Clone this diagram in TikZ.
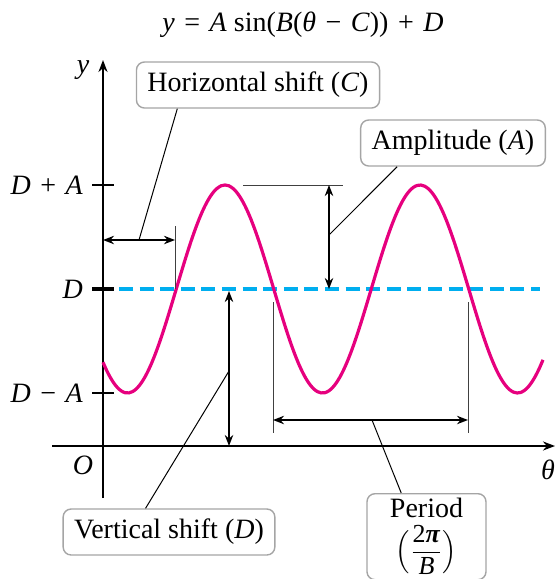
\documentclass[tikz,border=0pt]{standalone}
\usepackage{amsmath}
\usepackage{fontspec}
\setmainfont{Liberation Serif}
\usetikzlibrary{arrows.meta,calc}
\definecolor{wavepink}{RGB}{230,0,126}
\definecolor{midblue}{RGB}{0,174,239}
\definecolor{boxgray}{RGB}{165,165,165}
\newcommand{\opsp}{\hspace{0.34em}}
\tikzset{lbl/.style={draw=boxgray,rounded corners=4pt,fill=white,align=center,
 inner xsep=5.5pt,inner ysep=3pt,minimum height=23pt,font=\fontsize{14}{16}\selectfont,line width=0.7pt},
 txt/.style={font=\fontsize{14}{16}\selectfont},
 axis/.style={-{Stealth[length=6pt,width=4.5pt]},line width=1.1pt},
 dim/.style={{Stealth[length=5.5pt,width=4.2pt]}-{Stealth[length=5.5pt,width=4.2pt]},line width=0.9pt},
 lead/.style={line width=0.5pt},ext/.style={draw=black!75,line width=0.5pt},
 tickmark/.style={line width=1.1pt},wave/.style={wavepink,line width=1.6pt}}

\begin{document}
\begin{tikzpicture}[x=0.5pt,y=-0.5pt]
\useasboundingbox (0,0) rectangle (556,579);
\node[txt] (title) at (303,25) {\textit{y}\opsp=\opsp\textit{A} sin(\textit{B}(\textit{θ}\opsp−\opsp\textit{C}))\opsp+\opsp\textit{D}};
% axes
\draw[axis] (103,498) -- (103,60);
\draw[axis] (52,446) -- (555,446);
\node[txt] (ylab) at (83,70) {\textit{y}};
\node[txt] (olab) at (83,465) {\textit{O}};
\node[txt] (thlab) at (548,470) {\textit{θ}};
\draw[tickmark] (92,185) -- (114,185);
\draw[tickmark,line width=1.6pt] (92,289) -- (114,289);
\draw[tickmark] (92,393) -- (114,393);
\node[txt,anchor=east] (dplus) at (90,185) {\textit{D}\opsp+\opsp\textit{A}};
\node[txt,anchor=east] (dmid) at (90,289) {\textit{D}};
\node[txt,anchor=east] (dminus) at (90,393) {\textit{D}\opsp−\opsp\textit{A}};
\draw[midblue,line width=1.7pt,dash pattern=on 7pt off 3.3pt] (119,289) -- (540,289);
\draw[wave] plot[domain=103:543,samples=120,smooth] (\x,{289-104*sin((\x-176.25)*1.84615)});
% horizontal shift
\node[lbl] (hsbox) at (258,85) {Horizontal shift (\textit{C})};
\draw[ext] (175,226) -- (175,289);
\draw[dim] (103,240) -- (175,240);
\coordinate (hsp) at (139,240);
\draw[lead] (hsp) -- ($(hsbox.south west)!0.17!(hsbox.south east)$);
% amplitude
\node[lbl] (ampbox) at (453,143) {Amplitude (\textit{A})};
\draw[ext] (243,185) -- (343,185);
\draw[dim] (329,185) -- (329,289);
\coordinate (amp) at (329,235);
\draw[lead] (amp) -- ($(ampbox.south west)!0.2!(ampbox.south east)$);
% vertical shift
\node[lbl] (vsbox) at (169,532) {Vertical shift (\textit{D})};
\draw[dim] (229,291) -- (229,446);
\coordinate (vsp) at (229,371);
\draw[lead] (vsp) -- ($(vsbox.north west)!0.39!(vsbox.north east)$);
% period
\node[lbl,anchor=north,minimum width=59.5pt,minimum height=43pt,inner ysep=1.5pt] (perbox) at (426.5,493)
 {Period\\[2.5pt]{\fontsize{13}{14}\selectfont$\Bigl(\dfrac{\text{2\textbf{\textit{π}}}}{\text{\textit{B}}}\Bigr)$}};
\draw[ext] (273,302) -- (273,433);
\draw[ext] (468,302) -- (468,433);
\draw[dim] (273,420) -- (468,420);
\coordinate (per) at (372,420);
\draw[lead] (per) -- ($(perbox.north west)!0.29!(perbox.north east)$);
\end{tikzpicture}
\end{document}
